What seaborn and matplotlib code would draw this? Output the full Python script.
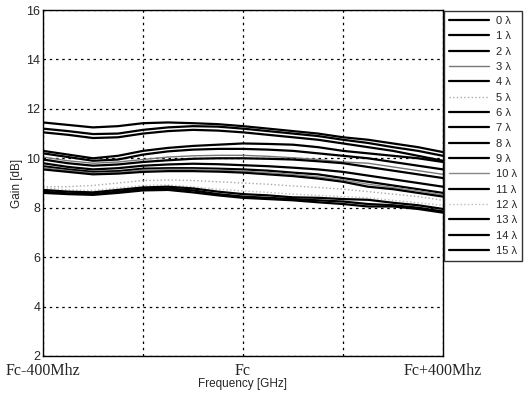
import numpy as np
import pandas as pd
import matplotlib
matplotlib.use("Agg")
import matplotlib.pyplot as plt
import seaborn as sns

freq_mhz = [-400, -350, -300, -250, -200, -150, -100, -50, 0, 50, 100, 150, 200, 250, 300, 350, 400]

gain_0 = [11.45, 11.35, 11.25, 11.30, 11.42, 11.45, 11.42, 11.38, 11.30, 11.20, 11.10, 11.00, 10.85, 10.75, 10.60, 10.45, 10.25]
gain_1 = [11.20, 11.10, 10.98, 11.00, 11.15, 11.25, 11.30, 11.28, 11.20, 11.10, 11.00, 10.90, 10.75, 10.62, 10.45, 10.30, 10.10]
gain_2 = [11.05, 10.95, 10.82, 10.85, 11.00, 11.10, 11.15, 11.12, 11.05, 10.95, 10.85, 10.75, 10.60, 10.45, 10.30, 10.10, 9.90]
gain_3 = [10.05, 9.90, 9.80, 9.85, 9.95, 10.05, 10.10, 10.12, 10.12, 10.08, 10.02, 9.95, 9.85, 9.80, 9.65, 9.50, 9.35]
gain_4 = [10.30, 10.15, 10.00, 10.10, 10.30, 10.42, 10.50, 10.55, 10.60, 10.58, 10.55, 10.45, 10.30, 10.20, 10.10, 10.00, 9.85]
gain_5 = [8.85, 8.85, 8.90, 9.00, 9.10, 9.12, 9.10, 9.05, 9.00, 8.95, 8.88, 8.82, 8.75, 8.65, 8.55, 8.45, 8.30]
gain_6 = [10.20, 10.05, 9.90, 9.95, 10.15, 10.28, 10.35, 10.38, 10.38, 10.35, 10.30, 10.20, 10.10, 10.00, 9.85, 9.70, 9.55]
gain_7 = [9.95, 9.80, 9.70, 9.75, 9.85, 9.92, 9.98, 10.00, 10.00, 9.98, 9.95, 9.88, 9.80, 9.65, 9.50, 9.35, 9.20]
gain_8 = [9.80, 9.65, 9.55, 9.60, 9.70, 9.75, 9.78, 9.76, 9.72, 9.68, 9.62, 9.55, 9.45, 9.30, 9.15, 9.00, 8.85]
gain_9 = [9.68, 9.55, 9.45, 9.48, 9.58, 9.60, 9.60, 9.58, 9.55, 9.50, 9.42, 9.35, 9.20, 9.05, 8.90, 8.75, 8.60]
gain_10 = [9.62, 9.50, 9.40, 9.43, 9.52, 9.55, 9.55, 9.52, 9.48, 9.42, 9.35, 9.25, 9.12, 8.95, 8.82, 8.68, 8.52]
gain_11 = [9.55, 9.45, 9.35, 9.38, 9.45, 9.48, 9.48, 9.46, 9.42, 9.35, 9.28, 9.18, 9.05, 8.85, 8.75, 8.60, 8.45]
gain_12 = [8.80, 8.72, 8.70, 8.80, 8.90, 8.92, 8.85, 8.75, 8.68, 8.62, 8.55, 8.50, 8.45, 8.40, 8.30, 8.20, 8.10]
gain_13 = [8.72, 8.65, 8.62, 8.72, 8.82, 8.85, 8.78, 8.65, 8.55, 8.50, 8.42, 8.40, 8.35, 8.32, 8.20, 8.10, 7.95]
gain_14 = [8.65, 8.58, 8.55, 8.65, 8.75, 8.78, 8.70, 8.55, 8.45, 8.40, 8.35, 8.30, 8.25, 8.15, 8.10, 8.00, 7.85]
gain_15 = [8.60, 8.55, 8.52, 8.60, 8.70, 8.72, 8.62, 8.50, 8.40, 8.35, 8.30, 8.22, 8.15, 8.05, 8.05, 7.95, 7.80]

series = [gain_0, gain_1, gain_2, gain_3, gain_4, gain_5, gain_6, gain_7,
          gain_8, gain_9, gain_10, gain_11, gain_12, gain_13, gain_14, gain_15]
labels = [f"{i} \u03bb" for i in range(16)]

y_ticks = [2, 4, 6, 8, 10, 12, 14, 16]
x_tick_pos = [-400, 0, 400]
x_tick_labels = ["Fc-400Mhz", "Fc", "Fc+400Mhz"]

colors = ["black", "black", "black", "#777777", "black", "#aaaaaa", "black", "black",
          "black", "black", "#888888", "black", "#bbbbbb", "black", "black", "black"]
styles = ["-", "-", "-", "-", "-", ":", "-", "-", "-", "-", "-", "-", ":", "-", "-", "-"]
widths = [1.6, 1.6, 1.6, 1.0, 1.6, 1.0, 1.6, 1.6, 1.6, 1.6, 1.0, 1.6, 1.0, 1.6, 1.6, 1.6]

sns.set_style("white")
plt.rcParams["font.family"] = ["Liberation Sans", "DejaVu Sans"]

fig = plt.figure(figsize=(5.26, 3.98), dpi=100)
ax = fig.add_axes([43 / 526, 42 / 398, 400 / 526, 346 / 398])

for lab, vals, c, ls, lw in zip(labels, series, colors, styles, widths):
    df = pd.DataFrame({"freq": freq_mhz, "gain": vals})
    sns.lineplot(data=df, x="freq", y="gain", ax=ax, color=c, linestyle=ls,
                 linewidth=lw, label=lab)

ax.set_xlim(-400, 400)
ax.set_ylim(2, 16)
ax.set_yticks(y_ticks)
ax.set_xticks(x_tick_pos)
ax.set_xticklabels(x_tick_labels, fontfamily=["Liberation Serif", "DejaVu Serif"], fontsize=11.5)
ax.set_xticks([-200, 200], minor=True)
ax.tick_params(axis="y", labelsize=9, direction="in", length=3, width=0.8, pad=2)
ax.tick_params(axis="x", which="both", direction="in", length=3, width=0.8, pad=5)
ax.grid(True, which="both", color="black", linestyle=(0, (2, 3)), linewidth=0.9)
ax.set_xlabel("Frequency [GHz]", fontsize=8.5, labelpad=-1)
ax.set_ylabel("Gain [dB]", fontsize=8.5, labelpad=2)
for s in ax.spines.values():
    s.set_color("black")
    s.set_linewidth(1.0)

leg = ax.legend(loc="upper left", bbox_to_anchor=(444 / 526, 1 - 11 / 398),
                bbox_transform=fig.transFigure, fontsize=8, frameon=True,
                fancybox=False, edgecolor="black", handlelength=3.6,
                handletextpad=0.6, labelspacing=0.48, borderpad=0.45,
                borderaxespad=0)
leg.get_frame().set_linewidth(1.0)

fig.savefig("out.png", dpi=100)
